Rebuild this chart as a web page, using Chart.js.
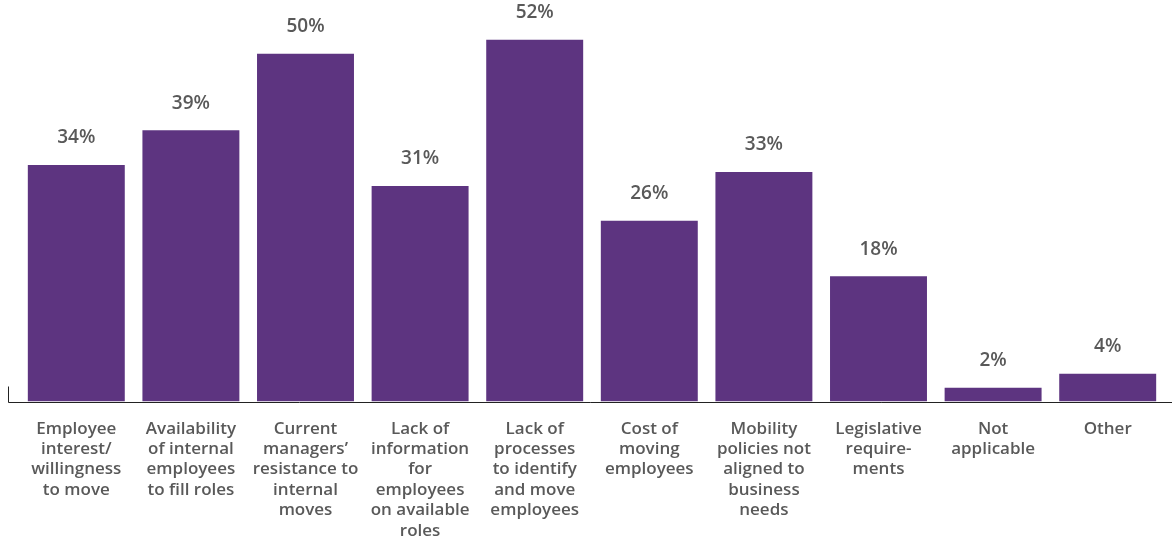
<!DOCTYPE html>
<html lang="en">
<head>
  <meta charset="UTF-8" />
  <title>Barriers to internal mobility</title>
  <script src="https://cdn.jsdelivr.net/npm/chart.js"></script>
  <style>
    html, body { margin: 0; padding: 0; background: #fff; overflow: hidden; }
    #wrap { width: 1172px; height: 558px; position: relative; }
  </style>
</head>
<body>
  <div id="wrap"><canvas id="chart"></canvas></div>

  <script>
    const categories = [
      ["Employee", "interest/", "willingness", "to move"],
      ["Availability", "of internal", "employees", "to fill roles"],
      ["Current", "managers’", "resistance to", "internal", "moves"],
      ["Lack of", "information", "for", "employees", "on available", "roles"],
      ["Lack of", "processes", "to identify", "and move", "employees"],
      ["Cost of", "moving", "employees"],
      ["Mobility", "policies not", "aligned to", "business", "needs"],
      ["Legislative", "require-", "ments"],
      ["Not", "applicable"],
      ["Other"]
    ];
    const shares = [34, 39, 50, 31, 52, 26, 33, 18, 2, 4];

    const purple = "#5d3480";
    const grey = "#595959";

    // percentage labels above the bars
    const valueLabels = {
      id: "valueLabels",
      afterDatasetsDraw(chart) {
        const ctx = chart.ctx;
        const meta = chart.getDatasetMeta(0);
        ctx.save();
        ctx.font = "600 19px 'Open Sans'";
        ctx.fillStyle = grey;
        ctx.textAlign = "center";
        ctx.textBaseline = "middle";
        meta.data.forEach((bar, i) => {
          ctx.fillText(shares[i] + "%", bar.x, bar.y - 27);
        });
        ctx.restore();
      }
    };

    // baseline running the full width plus the small tick at the left end
    const baseline = {
      id: "baseline",
      afterDraw(chart) {
        const ctx = chart.ctx;
        const y = Math.round(chart.chartArea.bottom) + 0.5;
        ctx.save();
        ctx.strokeStyle = "#222";
        ctx.lineWidth = 1;
        ctx.beginPath();
        ctx.moveTo(8.5, y - 16);
        ctx.lineTo(8.5, y);
        ctx.lineTo(chart.width, y);
        ctx.stroke();
        ctx.restore();
      }
    };

    new Chart(document.getElementById("chart"), {
      type: "bar",
      data: {
        labels: categories,
        datasets: [{
          data: shares,
          backgroundColor: purple,
          barPercentage: 0.846,
          categoryPercentage: 1
        }]
      },
      options: {
        responsive: true,
        maintainAspectRatio: false,
        animation: false,
        layout: { padding: { left: 19, right: 7, top: 5, bottom: 0 } },
        plugins: {
          legend: { display: false },
          tooltip: { enabled: false }
        },
        scales: {
          x: {
            grid: { display: false, drawTicks: false },
            border: { display: false },
            ticks: {
              color: grey,
              padding: 17,
              maxRotation: 0,
              autoSkip: false,
              font: { family: "'Open Sans'", size: 17, weight: "600", lineHeight: 1.2 }
            }
          },
          y: {
            display: false,
            min: 0,
            max: 57
          }
        }
      },
      plugins: [valueLabels, baseline]
    });
  </script>
</body>
</html>
